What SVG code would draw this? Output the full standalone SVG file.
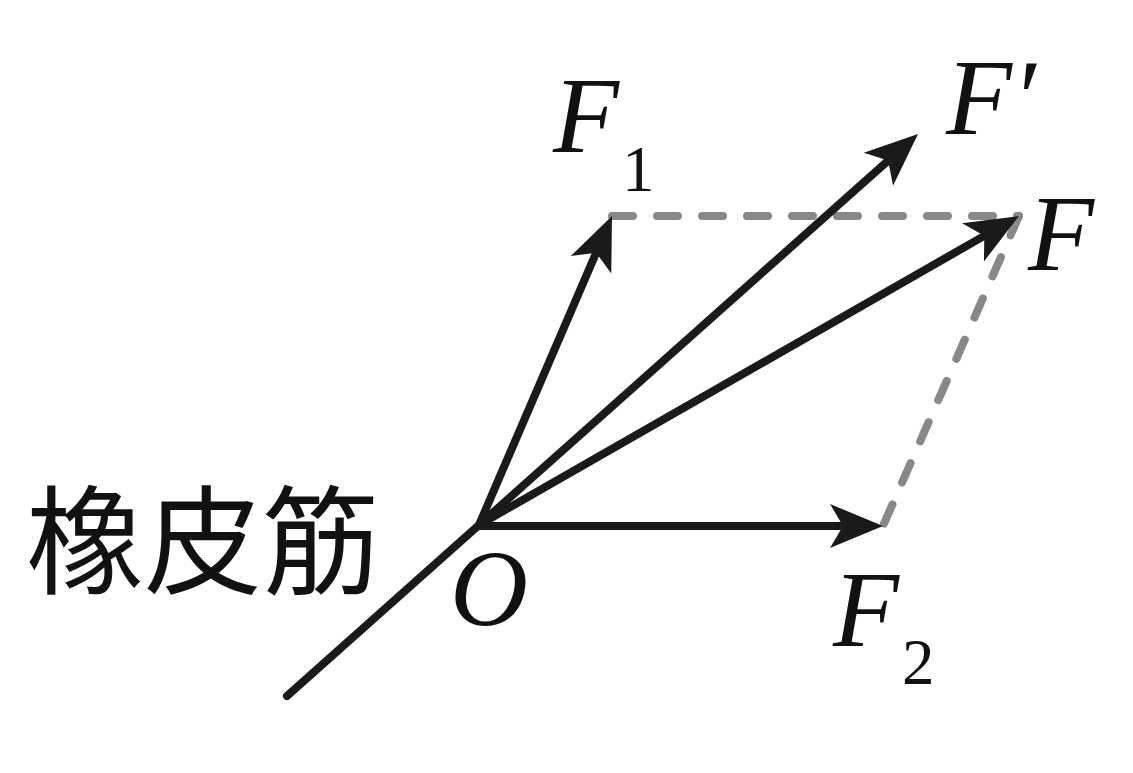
<svg xmlns="http://www.w3.org/2000/svg" width="1133" height="773" viewBox="0 0 1133 773">
<style>
.vec{stroke:#1a1a1a;stroke-width:8;fill:none;marker-end:url(#ah)}
.band{stroke:#1a1a1a;stroke-width:8;fill:none;stroke-linecap:round}
.dash{stroke:#888888;stroke-width:8;fill:none;stroke-dasharray:21 24;stroke-linecap:round}
.it{font-family:"Liberation Serif","Times New Roman",serif;font-style:italic;font-size:108px;fill:#111}
.sub{font-family:"Liberation Serif","Times New Roman",serif;font-size:65px;fill:#111}
.cn{font-family:"Liberation Serif","Noto Sans CJK SC",serif;font-size:118px;fill:#111}
</style>
<defs>
<marker id="ah" markerUnits="userSpaceOnUse" markerWidth="60" markerHeight="50" viewBox="0 -25 60 50" refX="20" refY="0" orient="auto">
<path d="M53,0 L0,-22 L13,0 L0,22 Z" fill="#1a1a1a"/>
</marker>
</defs>
<rect width="1133" height="773" fill="#ffffff"/>
<g id="connectors">
<line class="dash" x1="612" y1="216" x2="1019" y2="216"/>
<line class="dash" x1="1019" y1="216" x2="883" y2="526"/>
<line class="band" x1="287" y1="696" x2="479" y2="525"/>
<line class="vec" x1="479" y1="525" x2="598.95" y2="246.31"/>
<line class="vec" x1="479" y1="525" x2="893.36" y2="155.95"/>
<line class="vec" x1="479" y1="525" x2="990.36" y2="232.39"/>
<line class="vec" x1="479" y1="526" x2="850" y2="526"/>
</g>
<g id="label-rubber"><text class="cn" x="26" y="585">橡皮筋</text></g>
<g id="label-O"><text class="it" x="450" y="625">O</text></g>
<g id="label-F1"><text class="it" x="553" y="152">F</text><text class="sub" x="622" y="191">1</text></g>
<g id="label-Fprime"><text class="it" x="946" y="134">F′</text></g>
<g id="label-F"><text class="it" x="1028" y="270">F</text></g>
<g id="label-F2"><text class="it" x="833" y="646">F</text><text class="sub" x="902" y="684">2</text></g>
</svg>
